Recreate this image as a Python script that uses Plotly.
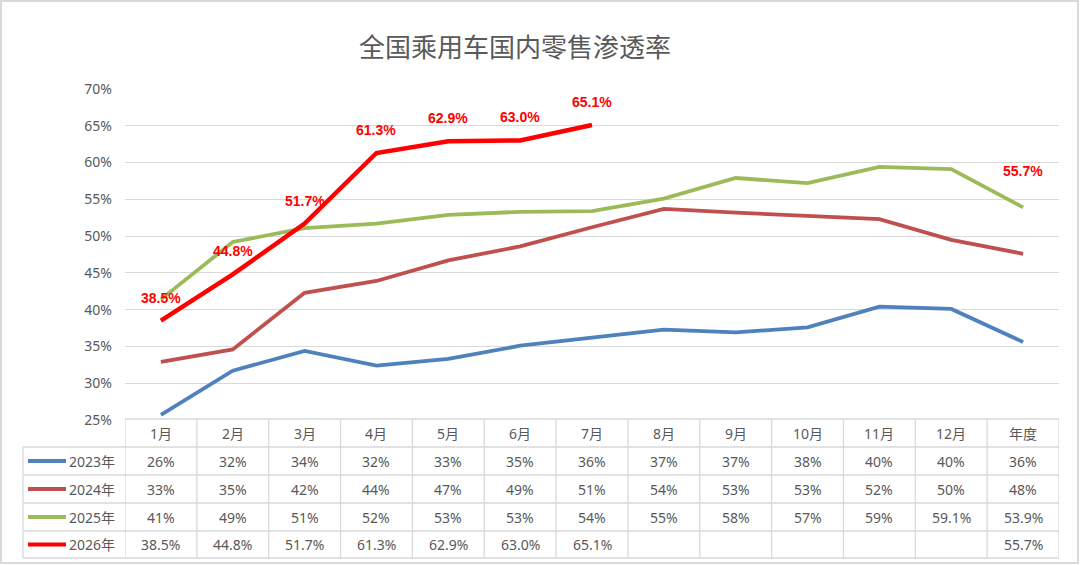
import plotly.graph_objects as go

# chart data
categories = ["1月", "2月", "3月", "4月", "5月", "6月", "7月", "8月", "9月", "10月", "11月", "12月", "年度"]
series_names = ["2023年", "2024年", "2025年", "2026年"]
values_2023 = [25.7, 31.7, 34.4, 32.4, 33.3, 35.1, 36.2, 37.3, 36.9, 37.6, 40.4, 40.1, 35.6]
values_2024 = [32.9, 34.6, 42.3, 43.9, 46.7, 48.6, 51.2, 53.7, 53.2, 52.8, 52.3, 49.5, 47.6]
values_2025 = [41.4, 49.2, 51.1, 51.7, 52.9, 53.3, 53.4, 55.1, 57.9, 57.2, 59.4, 59.1, 53.9]
values_2026 = [38.5, 44.8, 51.7, 61.3, 62.9, 63.0, 65.1, None, None, None, None, None, 55.7]
y_ticks = [25, 30, 35, 40, 45, 50, 55, 60, 65, 70]

# table strings as shown under the chart
table_2023 = ["26%", "32%", "34%", "32%", "33%", "35%", "36%", "37%", "37%", "38%", "40%", "40%", "36%"]
table_2024 = ["33%", "35%", "42%", "44%", "47%", "49%", "51%", "54%", "53%", "53%", "52%", "50%", "48%"]
table_2025 = ["41%", "49%", "51%", "52%", "53%", "53%", "54%", "55%", "58%", "57%", "59%", "59.1%", "53.9%"]
table_2026 = ["38.5%", "44.8%", "51.7%", "61.3%", "62.9%", "63.0%", "65.1%", "", "", "", "", "", "55.7%"]

colors = ["#4F81BD", "#C0504D", "#9BBB59", "#FF0000"]
widths = [3.8, 3.8, 3.8, 4.5]
all_values = [values_2023, values_2024, values_2025, values_2026]
all_tables = [table_2023, table_2024, table_2025, table_2026]

W, H = 1080, 565
L, R, T, B = 125, 21, 89, 145
GRID = "#D9D9D9"
TXT = "#595959"
FONT = "Noto Sans, Noto Sans CJK SC, sans-serif"


def px(x):
    return (x - L) / (W - L - R)


def py(y):
    return (H - B - y) / (H - T - B)


fig = go.Figure()
for name, vals, col, w in zip(series_names, all_values, colors, widths):
    fig.add_trace(go.Scatter(
        x=list(range(len(categories))), y=vals, name=name, mode="lines",
        line=dict(color=col, width=w), connectgaps=False, showlegend=False,
    ))

annotations = []
shapes = []

# data labels for 2026
for i, v in enumerate(values_2026):
    if v is None:
        continue
    annotations.append(dict(
        x=i, y=v, xref="x", yref="y", text=f"{v:.1f}%", showarrow=False,
        yshift=23, font=dict(family="Liberation Sans, Arial", size=14, color="#FF0000", weight="bold"),
    ))

# title
annotations.append(dict(
    x=px(515), y=py(45), xref="paper", yref="paper", text="全国乘用车国内零售渗透率",
    showarrow=False, xanchor="center", yanchor="middle",
    font=dict(family="Noto Sans CJK SC", size=26, color=TXT),
))

# data table
row_lines = [419, 447, 475, 503, 531, 558]
n = len(categories)
for k, y in enumerate(row_lines):
    x0 = 125 if k == 0 else 23
    shapes.append(dict(type="line", xref="paper", yref="paper",
                       x0=px(x0), x1=1, y0=py(y), y1=py(y),
                       line=dict(color=GRID, width=1.3)))
for j in range(n + 1):
    shapes.append(dict(type="line", xref="x", yref="paper",
                       x0=j - 0.5, x1=j - 0.5, y0=py(419), y1=py(558),
                       line=dict(color=GRID, width=1.3)))
shapes.append(dict(type="line", xref="paper", yref="paper",
                   x0=px(23), x1=px(23), y0=py(447), y1=py(558),
                   line=dict(color=GRID, width=1.3)))

for j, c in enumerate(categories):
    annotations.append(dict(x=j, y=py(433), xref="x", yref="paper", text=c,
                            showarrow=False, xanchor="center", yanchor="middle",
                            font=dict(family=FONT, size=14, color=TXT)))

for r, (name, tbl, col) in enumerate(zip(series_names, all_tables, colors)):
    yc = (row_lines[r + 1] + row_lines[r + 2]) / 2
    shapes.append(dict(type="line", xref="paper", yref="paper",
                       x0=px(28), x1=px(66), y0=py(yc), y1=py(yc),
                       line=dict(color=col, width=4)))
    annotations.append(dict(x=px(67), y=py(yc), xref="paper", yref="paper", text=name,
                            showarrow=False, xanchor="left", yanchor="middle",
                            font=dict(family=FONT, size=14, color=TXT)))
    for j, t in enumerate(tbl):
        if t:
            annotations.append(dict(x=j, y=py(yc), xref="x", yref="paper", text=t,
                                    showarrow=False, xanchor="center", yanchor="middle",
                                    font=dict(family=FONT, size=14, color=TXT)))

# outer border
shapes.append(dict(type="rect", xref="paper", yref="paper",
                   x0=px(1), x1=px(1078), y0=py(1), y1=py(563),
                   line=dict(color="#D9D9D9", width=2)))

fig.update_layout(
    width=W, height=H,
    margin=dict(l=L, r=R, t=T, b=B),
    paper_bgcolor="white", plot_bgcolor="white",
    xaxis=dict(range=[-0.5, n - 0.5], showticklabels=False, showgrid=False,
               zeroline=False, fixedrange=True),
    yaxis=dict(range=[25, 70], tickmode="array", tickvals=y_ticks,
               ticktext=[f"{t}%" for t in y_ticks],
               showgrid=True, gridcolor=GRID, gridwidth=1.3, zeroline=False,
               tickfont=dict(family=FONT, size=14, color=TXT), ticklabelstandoff=12),
    annotations=annotations, shapes=shapes,
)

fig.write_html("out.html", config={"displayModeBar": False},
               post_script="document.body.style.margin='0';")
